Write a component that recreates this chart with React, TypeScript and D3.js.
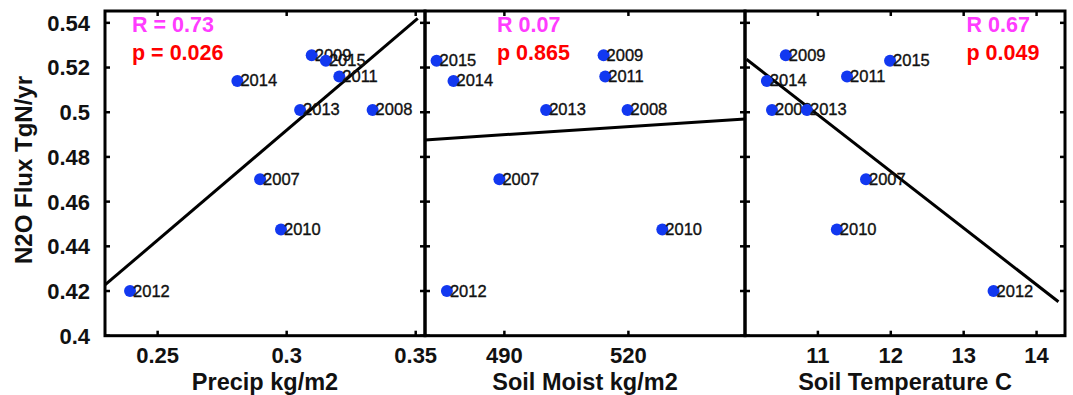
import React from "react";
import * as d3 from "d3";

const years = ["2007", "2008", "2009", "2010", "2011", "2012", "2013", "2014", "2015"];
const flux = [0.470, 0.501, 0.5255, 0.4475, 0.516, 0.420, 0.501, 0.514, 0.523];
const precip = [0.2897, 0.3333, 0.3097, 0.2978, 0.3204, 0.2393, 0.3052, 0.2809, 0.3152];
const soilMoist = [488.8, 519.8, 514.0, 528.2, 514.4, 476.1, 500.1, 477.7, 473.6];
const soilTemp = [11.66, 10.37, 10.56, 11.26, 11.40, 13.41, 10.85, 10.30, 11.99];

const precipFit: [number, number][] = [[0.2296, 0.4227], [0.3508, 0.542]];
const moistFit: [number, number][] = [[470.8, 0.4876], [548.2, 0.497]];
const tempFit: [number, number][] = [[10.02, 0.5237], [14.3, 0.4152]];

const yTicks = [0.4, 0.42, 0.44, 0.46, 0.48, 0.5, 0.52, 0.54];
const yTickLabels = ["0.4", "0.42", "0.44", "0.46", "0.48", "0.5", "0.52", "0.54"];

const precipTicks = [0.25, 0.3, 0.35];
const precipTickLabels = ["0.25", "0.3", "0.35"];
const moistTicks = [490, 520];
const moistTickLabels = ["490", "520"];
const tempTicks = [11, 12, 13, 14];
const tempTickLabels = ["11", "12", "13", "14"];

const rLabels = ["R = 0.73", "R 0.07", "R 0.67"];
const pLabels = ["p = 0.026", "p 0.865", "p 0.049"];
const xTitles = ["Precip kg/m2", "Soil Moist kg/m2", "Soil Temperature C"];
const yTitle = "N2O Flux TgN/yr";

const FONT = "'Liberation Sans', Arial, Helvetica, sans-serif";
const TOP = 11;
const BOTTOM = 335.7;

const y = d3.scaleLinear().domain([0.4, 0.5453]).range([BOTTOM, TOP]);

type Panel = {
  x: d3.ScaleLinear<number, number>;
  xs: number[];
  fit: [number, number][];
  ticks: number[];
  tickLabels: string[];
  r: string;
  p: string;
  title: string;
  annX: number;
};

const panels: Panel[] = [
  {
    x: d3.scaleLinear().domain([0.2296, 0.3536]).range([105, 425]),
    xs: precip, fit: precipFit, ticks: precipTicks, tickLabels: precipTickLabels,
    r: rLabels[0], p: pLabels[0], title: xTitles[0], annX: 132,
  },
  {
    x: d3.scaleLinear().domain([470.8, 548.2]).range([425, 745]),
    xs: soilMoist, fit: moistFit, ticks: moistTicks, tickLabels: moistTickLabels,
    r: rLabels[1], p: pLabels[1], title: xTitles[1], annX: 497,
  },
  {
    x: d3.scaleLinear().domain([10.0, 14.39]).range([745, 1065]),
    xs: soilTemp, fit: tempFit, ticks: tempTicks, tickLabels: tempTickLabels,
    r: rLabels[2], p: pLabels[2], title: xTitles[2], annX: 966.5,
  },
];

const line = (sx: d3.ScaleLinear<number, number>) =>
  d3.line<[number, number]>().x((d) => sx(d[0])).y((d) => y(d[1]));

export default function App() {
  const TL = 5;
  return (
    <svg
      width={1073}
      height={395}
      style={{ position: "absolute", left: 0, top: 0, background: "#fff" }}
      fontFamily={FONT}
    >
      <rect x={0} y={0} width={1073} height={395} fill="#fff" />
      {panels.map((pn, pi) => {
        const [x0, x1] = pn.x.range();
        const cx = (x0 + x1) / 2;
        return (
          <g key={pi}>
            <path d={line(pn.x)(pn.fit) || ""} fill="none" stroke="#000" strokeWidth={3} />
            {pn.xs.map((v, i) => (
              <g key={i}>
                <circle cx={pn.x(v)} cy={y(flux[i])} r={6} fill="#1238f0" />
                <text
                  x={pn.x(v) + 3}
                  y={y(flux[i]) + 5.5}
                  fontSize={16.5}
                  fill="#111"
                  stroke="#111"
                  strokeWidth={0.35}
                >
                  {years[i]}
                </text>
              </g>
            ))}
            {yTicks.map((t, i) => (
              <g key={"yt" + i}>
                <line x1={x0} x2={x0 + TL} y1={y(t)} y2={y(t)} stroke="#000" strokeWidth={2.5} />
                <line x1={x1} x2={x1 - TL} y1={y(t)} y2={y(t)} stroke="#000" strokeWidth={2.5} />
              </g>
            ))}
            {pn.ticks.map((t, i) => (
              <g key={"xt" + i}>
                <line x1={pn.x(t)} x2={pn.x(t)} y1={BOTTOM} y2={BOTTOM - TL} stroke="#000" strokeWidth={2.5} />
                <line x1={pn.x(t)} x2={pn.x(t)} y1={TOP} y2={TOP + TL} stroke="#000" strokeWidth={2.5} />
                <text x={pn.x(t)} y={362.5} fontSize={22} fontWeight="bold" textAnchor="middle" fill="#111">
                  {pn.tickLabels[i]}
                </text>
              </g>
            ))}
            <rect x={x0} y={TOP} width={x1 - x0} height={BOTTOM - TOP} fill="none" stroke="#000" strokeWidth={3} />
            <text x={pn.annX} y={31.5} fontSize={21.5} fontWeight="bold" fill="#ff3cff">{pn.r}</text>
            <text x={pn.annX} y={59.5} fontSize={21.5} fontWeight="bold" fill="#ff0000">{pn.p}</text>
            <text x={cx} y={389.5} fontSize={23.5} fontWeight="bold" textAnchor="middle" fill="#111">
              {pn.title}
            </text>
          </g>
        );
      })}
      {yTicks.map((t, i) => (
        <text key={"yl" + i} x={90} y={y(t)} dy="0.36em" fontSize={22} fontWeight="bold" textAnchor="end" fill="#111">
          {yTickLabels[i]}
        </text>
      ))}
      <text
        transform={`translate(23,170) rotate(-90)`}
        dy="0.36em"
        fontSize={24}
        fontWeight="bold"
        textAnchor="middle"
        fill="#111"
      >
        {yTitle}
      </text>
    </svg>
  );
}
